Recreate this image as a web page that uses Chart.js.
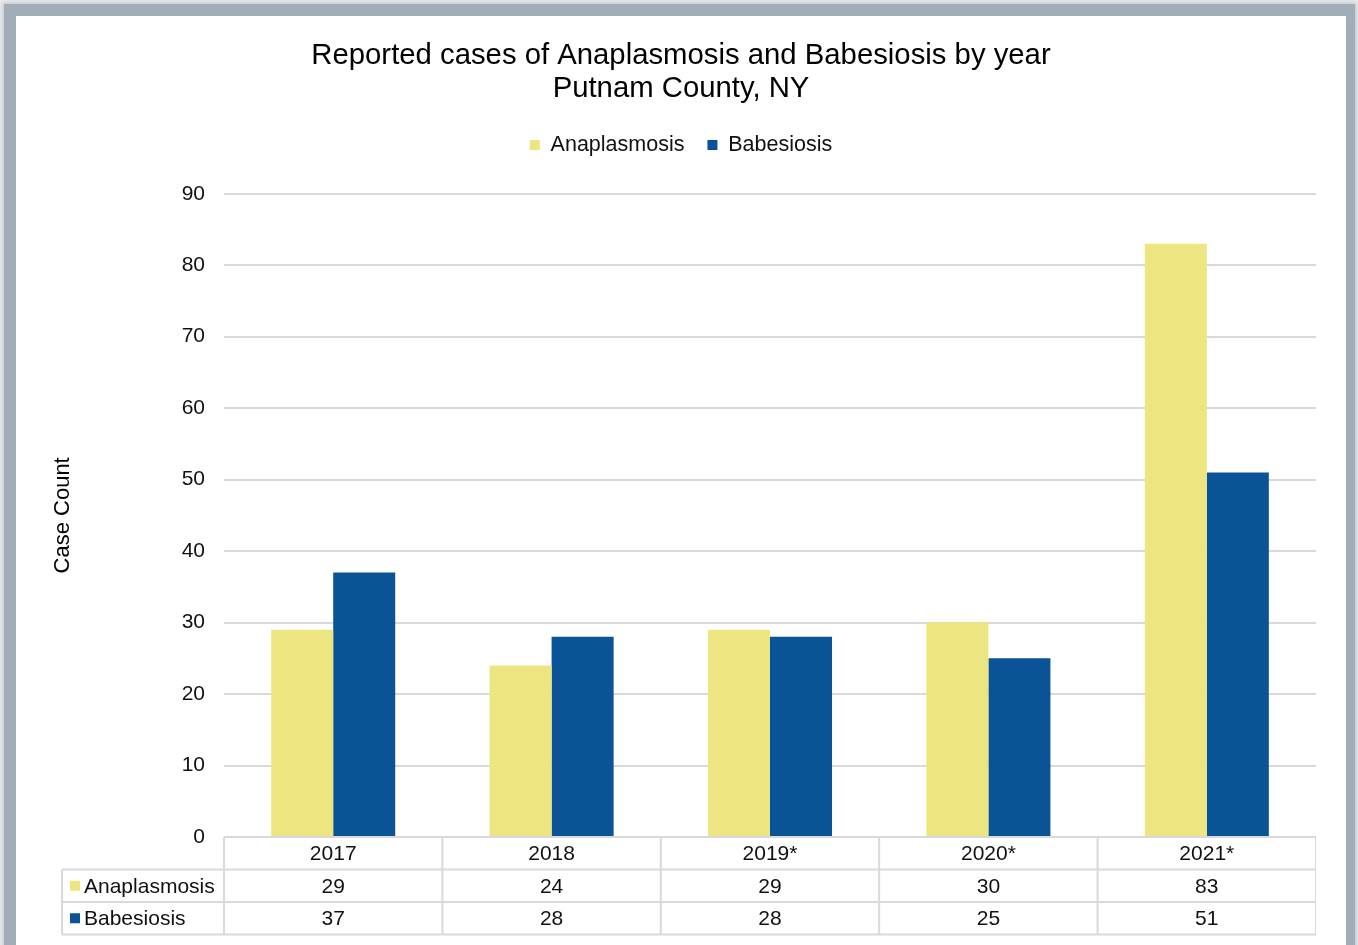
<!DOCTYPE html>
<html>
<head>
<meta charset="utf-8">
<script src="https://cdn.jsdelivr.net/npm/chart.js@4.4.0/dist/chart.umd.min.js"></script>
<style>
  html, body { margin: 0; padding: 0; background: #eef0f2; overflow: hidden; }
  #frame {
    position: absolute; left: 4px; top: 4px; width: 1351px; height: 980px;
    background: #a3adb8; box-shadow: 0 0 5px 2px #c3cad2;
  }
  #card {
    position: absolute; left: 16px; top: 16px; width: 1330px; height: 929px;
    background: #fff;
  }
  #myChart { position: absolute; left: 46px; top: 16px; }
</style>
</head>
<body>
<div id="frame"></div>
<div id="card"></div>
<canvas id="myChart" width="1270" height="929"></canvas>
<script>
const years = ['2017', '2018', '2019*', '2020*', '2021*'];
const anaplasmosis = [29, 24, 29, 30, 83];
const babesiosis = [37, 28, 28, 25, 51];
const yTicksMax = 90;
const yTicksStep = 10;

const yellow = '#ede680';
const blue = '#0a5396';
const gridColor = '#d9d9d9';
const fontFamily = '"Liberation Sans", Arial, sans-serif';

// legend gets some extra room under it
const legendSpace = {
  id: 'legendSpace',
  beforeInit(chart) {
    const fit = chart.legend.fit;
    chart.legend.fit = function () {
      fit.bind(chart.legend)();
      this.height += 28;
    };
  }
};

// data table under the bars, columns taken from the x scale
const dataTable = {
  id: 'dataTable',
  afterDraw(chart) {
    const ctx = chart.ctx;
    const area = chart.chartArea;
    const x = chart.scales.x;
    const band = x.width / years.length;
    const rowH = 32.5;
    const top = area.bottom;
    const labelLeft = 16;
    const rows = [
      { name: 'Anaplasmosis', color: yellow, values: anaplasmosis },
      { name: 'Babesiosis', color: blue, values: babesiosis }
    ];
    ctx.save();
    ctx.strokeStyle = gridColor;
    ctx.lineWidth = 2;
    ctx.beginPath();
    ctx.moveTo(area.left, top);
    ctx.lineTo(area.right, top);
    for (let r = 1; r <= 3; r++) {
      ctx.moveTo(labelLeft, top + r * rowH);
      ctx.lineTo(area.right, top + r * rowH);
    }
    for (let i = 0; i <= years.length; i++) {
      const px = x.getPixelForValue(i) - band / 2;
      ctx.moveTo(px, top);
      ctx.lineTo(px, top + 3 * rowH);
    }
    ctx.moveTo(labelLeft, top + rowH);
    ctx.lineTo(labelLeft, top + 3 * rowH);
    ctx.stroke();

    ctx.fillStyle = '#111';
    ctx.font = '21px ' + fontFamily;
    ctx.textBaseline = 'middle';
    ctx.textAlign = 'center';
    years.forEach((y, i) => {
      ctx.fillText(y, x.getPixelForValue(i), top + rowH / 2 + 1);
    });
    rows.forEach((row, r) => {
      const cy = top + (r + 1.5) * rowH + 1;
      row.values.forEach((v, i) => {
        ctx.fillStyle = '#111';
        ctx.textAlign = 'center';
        ctx.fillText(String(v), x.getPixelForValue(i), cy);
      });
      ctx.fillStyle = row.color;
      ctx.fillRect(labelLeft + 8, cy - 6, 10, 10);
      ctx.fillStyle = '#111';
      ctx.textAlign = 'left';
      ctx.fillText(row.name, labelLeft + 22, cy);
    });
    ctx.restore();
  }
};

var ctx = document.getElementById('myChart');
var myChart = new Chart(ctx, {
  type: 'bar',
  data: {
    labels: years,
    datasets: [{
      label: 'Anaplasmosis',
      data: anaplasmosis,
      backgroundColor: yellow,
      borderWidth: 0
    },
    {
      label: 'Babesiosis',
      data: babesiosis,
      backgroundColor: blue,
      borderWidth: 0
    }]
  },
  options: {
    responsive: false,
    animation: false,
    layout: { padding: { left: 0, right: 0, top: 0, bottom: 108 } },
    datasets: {
      bar: { barPercentage: 1, categoryPercentage: 0.568 }
    },
    plugins: {
      title: {
        display: true,
        text: ['Reported cases of Anaplasmosis and Babesiosis by year', 'Putnam County, NY'],
        color: '#000',
        font: { family: fontFamily, size: 29.3, weight: 'normal', lineHeight: 1.13 },
        padding: { top: 23.5, bottom: 5.5 }
      },
      legend: {
        position: 'top',
        labels: {
          color: '#111',
          font: { family: fontFamily, size: 21.5 },
          boxWidth: 10,
          boxHeight: 10,
          padding: 23
        }
      },
      tooltip: { enabled: false }
    },
    scales: {
      x: {
        display: false
      },
      y: {
        min: 0,
        max: yTicksMax,
        afterFit: function (scale) { scale.width = 178; },
        ticks: {
          stepSize: yTicksStep,
          padding: 19,
          color: '#111',
          font: { family: fontFamily, size: 21 }
        },
        grid: { color: gridColor, lineWidth: 2, drawTicks: false },
        border: { display: false },
        title: {
          display: true,
          text: 'Case Count',
          color: '#000',
          font: { family: fontFamily, size: 22 },
          padding: { top: 4, bottom: 0 }
        }
      }
    }
  },
  plugins: [legendSpace, dataTable]
});
</script>
</body>
</html>
